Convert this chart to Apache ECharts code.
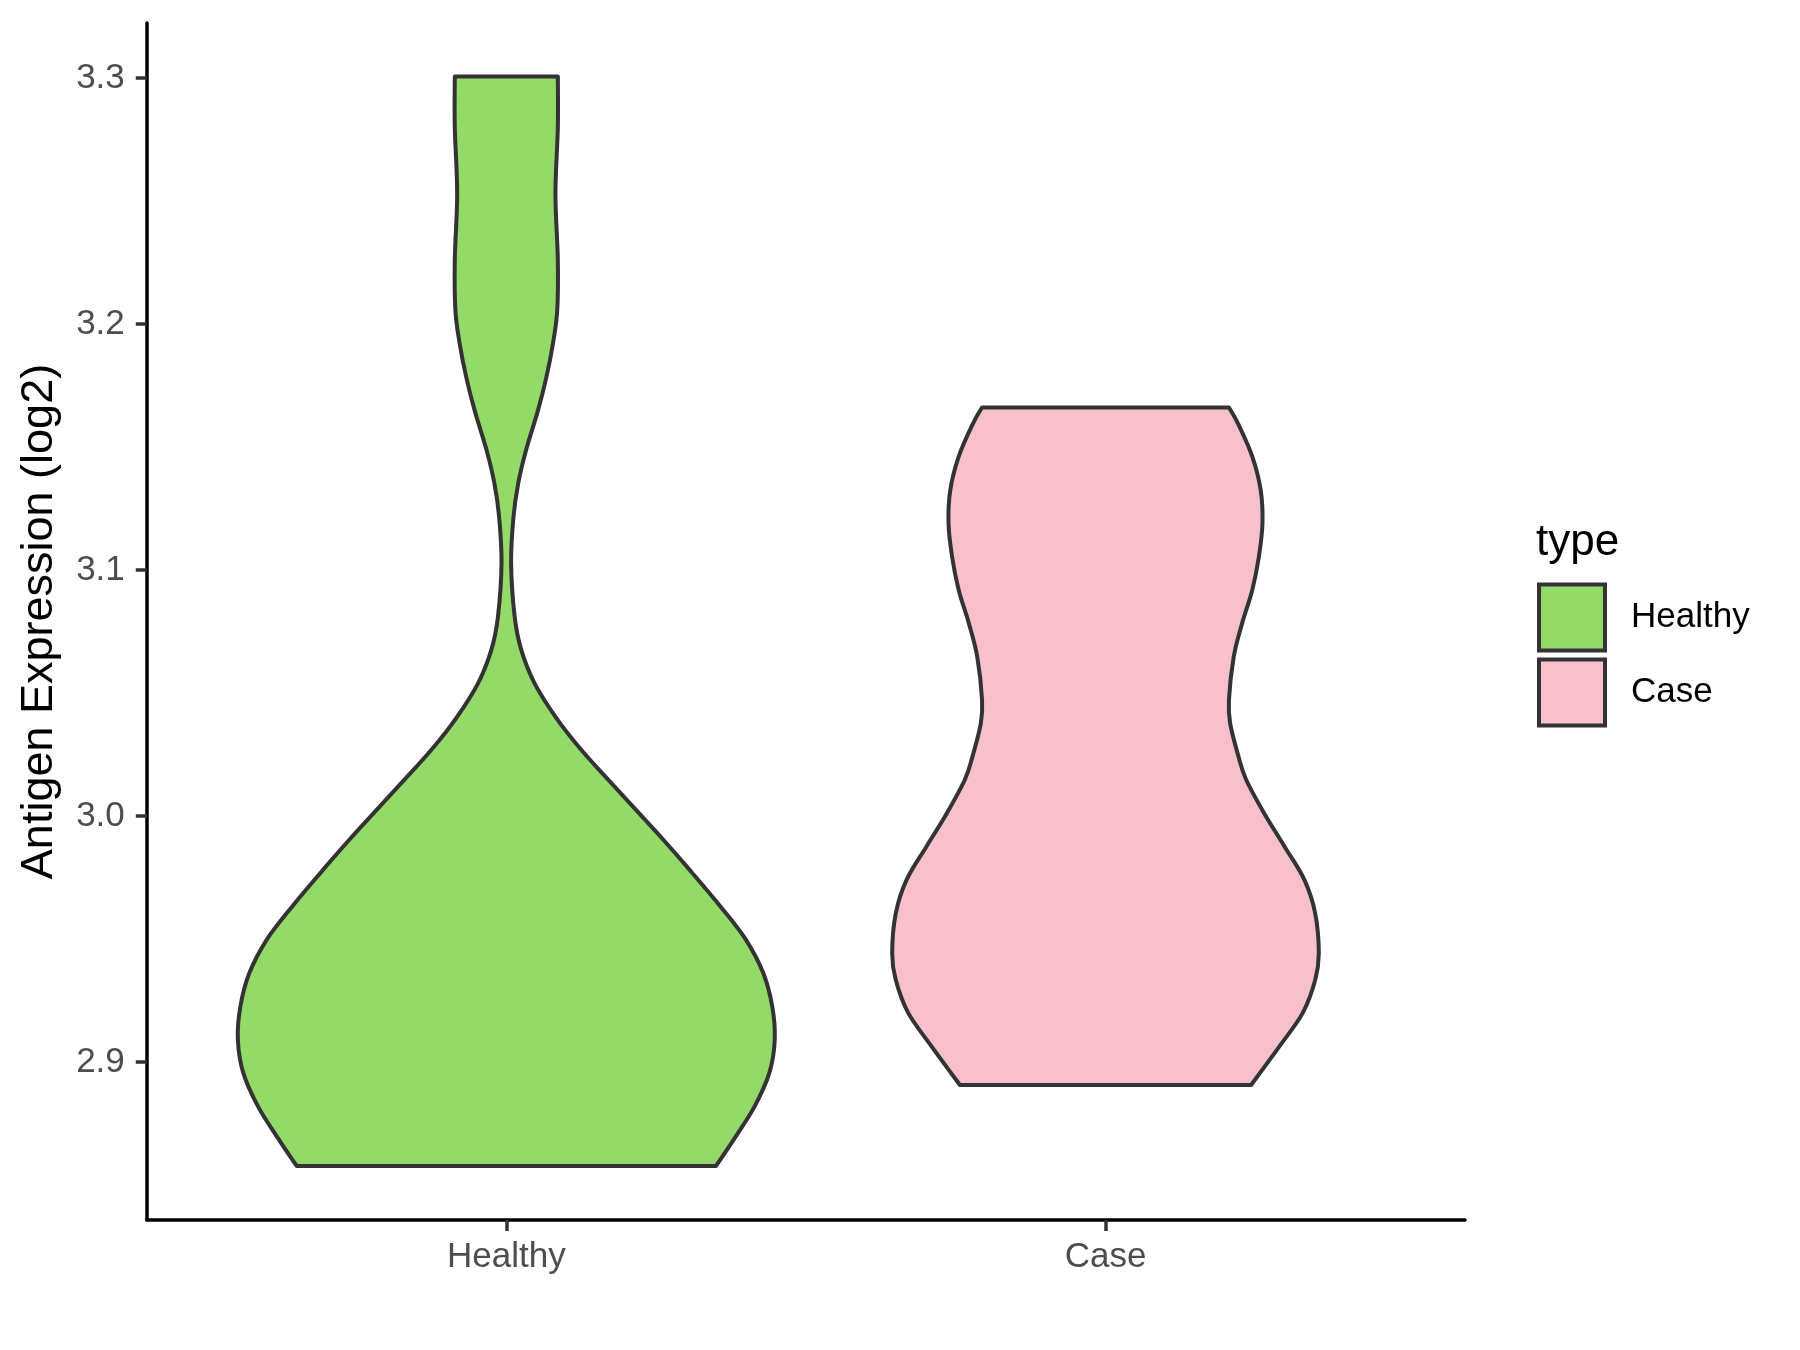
<!DOCTYPE html>
<html><head><meta charset="utf-8">
<script src="https://cdn.jsdelivr.net/npm/echarts@6/dist/echarts.min.js"></script>
<style>html,body{margin:0;padding:0;background:#fff}#c{width:1800px;height:1350px}</style>
</head><body><div id="c"></div>
<script>
// ---- data ----
const categories = ['Healthy', 'Case'];
const yTicks = [2.9, 3.0, 3.1, 3.2, 3.3];
const yTitle = 'Antigen Expression (log2)';
const legendTitle = 'type';

// violin outline: expression value (y) and half-width in category units
const healthyY = [2.8577, 2.8682, 2.8817, 2.8955, 2.9089, 2.9223, 2.936, 2.9496, 2.963, 2.9769, 2.9903, 3.0134, 3.0269, 3.040, 3.054, 3.0675, 3.0809, 3.1028, 3.1216, 3.1354, 3.1488, 3.165, 3.1785, 3.1923, 3.2057, 3.226, 3.253, 3.280, 3.3006];
const healthyHalfWidth = [0.350, 0.379, 0.414, 0.439, 0.448, 0.444, 0.429, 0.400, 0.358, 0.310, 0.262, 0.175, 0.125, 0.083, 0.047, 0.025, 0.014, 0.008, 0.012, 0.020, 0.033, 0.053, 0.067, 0.078, 0.085, 0.086, 0.082, 0.086, 0.086];

const caseY = [2.8906, 2.9062, 2.9198, 2.9333, 2.9441, 2.9604, 2.974, 2.9875, 3.001, 3.0146, 3.0241, 3.0377, 3.0471, 3.0647, 3.0783, 3.0919, 3.1054, 3.119, 3.1325, 3.1461, 3.1596, 3.1661];
const caseHalfWidth = [0.243, 0.290, 0.329, 0.350, 0.356, 0.350, 0.332, 0.299, 0.265, 0.235, 0.222, 0.208, 0.206, 0.214, 0.228, 0.245, 0.256, 0.262, 0.259, 0.245, 0.221, 0.206];

const fillColors = ['#93da69', '#f7c0cb'];
const strokeColor = '#333333';
const FONT = "'Liberation Sans', Arial, Helvetica, sans-serif";

const profiles = [
  { y: healthyY, hw: healthyHalfWidth },
  { y: caseY, hw: caseHalfWidth }
];

function catmull(pts) {
  let d = '';
  const n = pts.length;
  for (let i = 0; i < n - 1; i++) {
    const p0 = pts[Math.max(i - 1, 0)], p1 = pts[i], p2 = pts[i + 1], p3 = pts[Math.min(i + 2, n - 1)];
    const c1x = p1[0] + (p2[0] - p0[0]) / 6, c1y = p1[1] + (p2[1] - p0[1]) / 6;
    const c2x = p2[0] - (p3[0] - p1[0]) / 6, c2y = p2[1] - (p3[1] - p1[1]) / 6;
    d += ' C' + c1x + ',' + c1y + ' ' + c2x + ',' + c2y + ' ' + p2[0] + ',' + p2[1];
  }
  return d;
}

function makeRender(k) {
  return function (params, api) {
    const center = api.value(0);
    const prof = profiles[k];
    const left = [], right = [];
    for (let i = 0; i < prof.y.length; i++) left.push(api.coord([center - prof.hw[i], prof.y[i]]));
    for (let i = prof.y.length - 1; i >= 0; i--) right.push(api.coord([center + prof.hw[i], prof.y[i]]));
    let d = 'M' + left[0][0] + ',' + left[0][1] + catmull(left);
    d += ' L' + right[0][0] + ',' + right[0][1] + catmull(right) + ' Z';
    return {
      type: 'path',
      shape: { pathData: d },
      style: { fill: fillColors[k], stroke: strokeColor, lineWidth: 4, lineJoin: 'round' }
    };
  };
}

const chart = echarts.init(document.getElementById('c'), null, { renderer: 'canvas' });
chart.setOption({
  backgroundColor: '#ffffff',
  animation: false,
  grid: { left: 146.8, right: 335, top: 23, bottom: 130, containLabel: false },
  xAxis: {
    type: 'value', min: 0.4, max: 2.6,
    splitLine: { show: false },
    axisLine: { show: true, onZero: false, lineStyle: { color: '#000', width: 3.5 } },
    axisTick: { show: true, length: 11, customValues: [1, 2], lineStyle: { color: strokeColor, width: 3.5 } },
    axisLabel: {
      show: true, customValues: [1, 2], margin: 20,
      formatter: v => categories[Math.round(v) - 1] || '',
      color: '#4d4d4d', fontSize: 35, fontFamily: FONT
    }
  },
  yAxis: {
    type: 'value', min: 2.8357, max: 3.3224,
    splitLine: { show: false },
    axisLine: { show: true, onZero: false, lineStyle: { color: '#000', width: 3.5 } },
    axisTick: { show: true, length: 11, customValues: yTicks, lineStyle: { color: strokeColor, width: 3.5 } },
    axisLabel: {
      show: true, customValues: yTicks, margin: 22,
      formatter: v => Number(v).toFixed(1),
      color: '#4d4d4d', fontSize: 35, fontFamily: FONT
    }
  },
  legend: {
    orient: 'vertical', left: 1532, top: 577.5,
    itemWidth: 66, itemHeight: 66, itemGap: 5, icon: 'rect',
    selectedMode: false,
    textStyle: { fontSize: 35, color: '#000', fontFamily: FONT, padding: [0, 0, 0, 21] },
    data: categories.map((c, k) => ({
      name: c,
      itemStyle: { color: fillColors[k], borderColor: strokeColor, borderWidth: 4 }
    }))
  },
  graphic: [
    {
      type: 'text', x: 40, y: 621.5, rotation: Math.PI / 2,
      style: { text: yTitle, font: '45px ' + FONT, fill: '#000', align: 'center', verticalAlign: 'middle' }
    },
    {
      type: 'text', x: 1536, y: 543,
      style: { text: legendTitle, font: '44px ' + FONT, fill: '#000', align: 'left', verticalAlign: 'middle' }
    }
  ],
  series: categories.map((c, k) => ({
    type: 'custom', name: c,
    itemStyle: { color: fillColors[k], borderColor: strokeColor, borderWidth: 4 },
    renderItem: makeRender(k),
    encode: { x: 0, y: 1 },
    data: [[k + 1, 3.0]]
  }))
});
</script></body></html>
